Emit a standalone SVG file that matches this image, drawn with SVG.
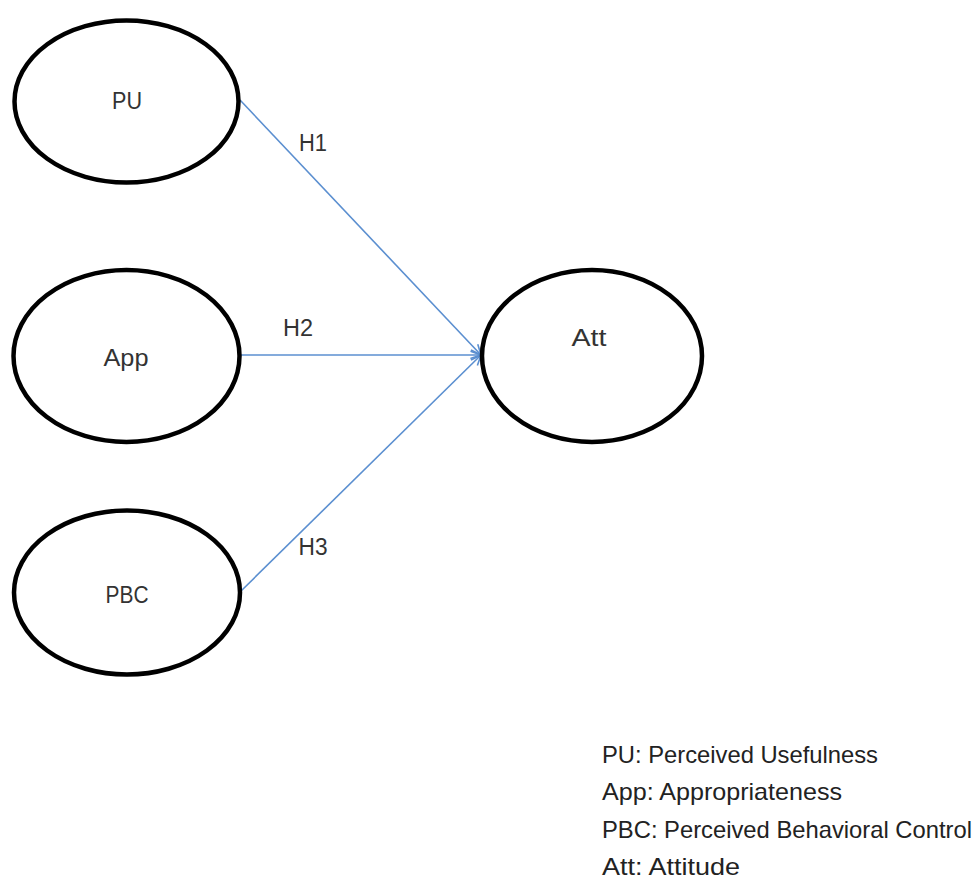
<svg xmlns="http://www.w3.org/2000/svg" width="979" height="879" viewBox="0 0 979 879">
<style>
.node{fill:#fff;stroke:#000;stroke-width:4.5}
.lbl{font-family:"Liberation Sans","DejaVu Sans",sans-serif;font-size:24px;fill:#333;text-anchor:middle}
.hl{font-family:"Liberation Sans","DejaVu Sans",sans-serif;font-size:23px;fill:#333;text-anchor:middle}
.leg{font-family:"Liberation Sans","DejaVu Sans",sans-serif;font-size:24px;fill:#222}
.edge{stroke:#5b8fd0;stroke-width:1.6;fill:none;marker-end:url(#arr)}
</style>
<defs>
<marker id="arr" viewBox="0 0 12 12" refX="11" refY="6" markerWidth="12" markerHeight="12" markerUnits="userSpaceOnUse" orient="auto">
<path d="M1,1 L11,6 L1,11" fill="none" stroke="#5b8fd0" stroke-width="1.6"/>
</marker>
</defs>
<rect width="979" height="879" fill="#fff"/>
<g id="connectors">
<line class="edge" x1="240" y1="100" x2="481" y2="355"/>
<line class="edge" x1="240" y1="355" x2="481" y2="355"/>
<line class="edge" x1="240" y1="592" x2="481" y2="355"/>
<text class="hl" x="313" y="151" textLength="28" lengthAdjust="spacingAndGlyphs">H1</text>
<text class="hl" x="298" y="336" textLength="30" lengthAdjust="spacingAndGlyphs">H2</text>
<text class="hl" x="313" y="555" textLength="29" lengthAdjust="spacingAndGlyphs">H3</text>
</g>
<g id="PU">
<ellipse class="node" cx="126.5" cy="101.5" rx="112" ry="81"/>
<text class="lbl" x="127" y="109" textLength="30" lengthAdjust="spacingAndGlyphs">PU</text>
</g>
<g id="App">
<ellipse class="node" cx="126.5" cy="356" rx="113" ry="86"/>
<text class="lbl" x="126" y="366" textLength="45" lengthAdjust="spacingAndGlyphs">App</text>
</g>
<g id="PBC">
<ellipse class="node" cx="127" cy="592.5" rx="113" ry="82"/>
<text class="lbl" x="127" y="603" textLength="43" lengthAdjust="spacingAndGlyphs">PBC</text>
</g>
<g id="Att">
<ellipse class="node" cx="592" cy="356" rx="110" ry="86"/>
<text class="lbl" x="589" y="346" textLength="35" lengthAdjust="spacingAndGlyphs">Att</text>
</g>
<g id="legend">
<text class="leg" x="602" y="763" textLength="276" lengthAdjust="spacingAndGlyphs">PU: Perceived Usefulness</text>
<text class="leg" x="602" y="800" textLength="240" lengthAdjust="spacingAndGlyphs">App: Appropriateness</text>
<text class="leg" x="602" y="838" textLength="370" lengthAdjust="spacingAndGlyphs">PBC: Perceived Behavioral Control</text>
<text class="leg" x="602" y="875" textLength="138" lengthAdjust="spacingAndGlyphs">Att: Attitude</text>
</g>
</svg>
